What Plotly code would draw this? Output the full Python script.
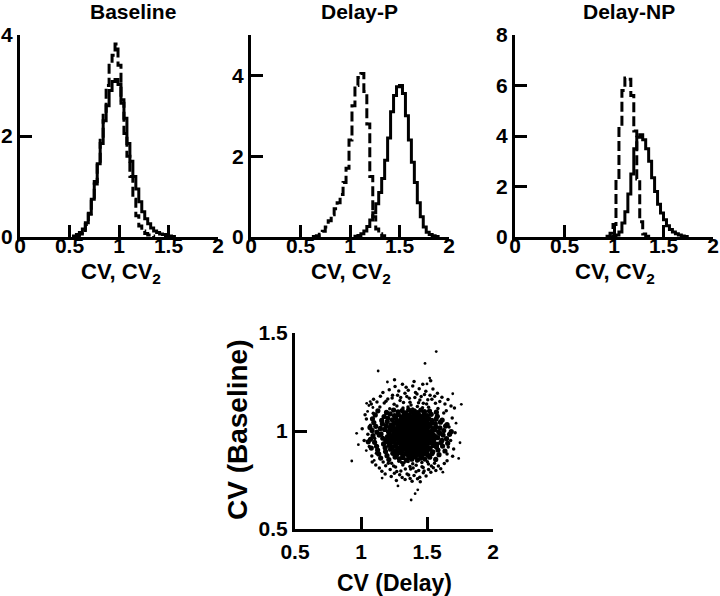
import plotly.graph_objects as go

# ---------------- data ----------------
bin_width = 0.03

baseline_cv_start = 0.54
baseline_cv = [0.02, 0.05, 0.09, 0.16, 0.28, 0.47, 0.75, 1.05, 1.45, 1.85, 2.3, 2.6, 2.9, 3.08,
               3.12, 3.02, 2.72, 2.35, 1.85, 1.5, 1.2, 0.95, 0.7, 0.5, 0.36, 0.26, 0.18, 0.12,
               0.09, 0.06, 0.05, 0.03, 0.02, 0.01]
baseline_cv2_start = 0.57
baseline_cv2 = [0.02, 0.06, 0.13, 0.25, 0.45, 0.75, 1.1, 1.5, 1.95, 2.45, 3.0, 3.45, 3.6, 3.82,
                3.4, 2.65, 2.05, 1.6, 1.2, 0.75, 0.42, 0.22, 0.12, 0.07, 0.04, 0.02]

delayp_cv_start = 1.05
delayp_cv = [0.02, 0.04, 0.08, 0.15, 0.26, 0.42, 0.6, 0.82, 1.1, 1.45, 1.9, 2.45, 3.1, 3.5,
             3.72, 3.75, 3.55, 3.0, 2.4, 1.85, 1.35, 0.85, 0.5, 0.25, 0.12, 0.06, 0.03, 0.01]
delayp_cv2_start = 0.63
delayp_cv2 = [0.01, 0.03, 0.07, 0.14, 0.25, 0.4, 0.55, 0.7, 0.85, 1.05, 1.35, 1.7, 2.4, 3.25,
              3.75, 3.95, 4.05, 3.6, 2.8, 1.5, 0.5, 0.2, 0.08, 0.03]

delaynp_cv_start = 0.96
delaynp_cv = [0.01, 0.03, 0.08, 0.2, 0.55, 1.0, 1.7, 2.5, 3.5, 3.95, 4.05, 3.85, 3.5, 3.0,
              2.35, 1.8, 1.3, 0.95, 0.68, 0.45, 0.3, 0.2, 0.13, 0.08, 0.04, 0.02]
delaynp_cv2_start = 0.93
delaynp_cv2 = [0.03, 0.15, 0.5, 2.2, 4.3, 5.8, 6.3, 6.25, 5.6, 4.2, 2.3, 0.6, 0.12, 0.03]

panel_titles = ["Baseline", "Delay-P", "Delay-NP"]
hist_x_ticks = [0, 0.5, 1, 1.5, 2]
hist_x_ticktext = ["0", "0.5", "1", "1.5", "2"]
hist_y_ticks = [[0, 2, 4], [0, 2, 4], [0, 2, 4, 6, 8]]
hist_y_ranges = [[0, 4], [0, 5], [0, 8]]
scatter_ticks = [0.5, 1, 1.5, 2]
scatter_ticktext = ["0.5", "1", "1.5", "2"]
scatter_yticks = [0.5, 1, 1.5]
scatter_yticktext = ["0.5", "1", "1.5"]

# (CV delay, CV baseline) pairs, estimated from the cloud: dense core
cv_pairs_core = [
    (1.091,0.976),(1.152,0.985),(1.201,0.972),(1.214,0.988),(1.246,0.979),(1.262,0.971),(1.268,0.986),
    (1.295,0.975),(1.297,0.989),(1.319,0.973),(1.323,0.982),(1.344,0.977),(1.352,0.988),(1.356,0.970),
    (1.374,0.984),(1.381,0.974),(1.386,0.990),(1.394,0.978),(1.405,0.971),(1.409,0.986),(1.427,0.980),
    (1.431,0.973),(1.452,0.987),(1.455,0.976),(1.476,0.982),(1.482,0.972),(1.509,0.985),(1.521,0.977),
    (1.546,0.981),(1.559,0.974),(1.596,0.988),(1.622,0.979),(1.671,0.983),(1.138,0.979),
    (1.072,0.958),(1.165,0.963),(1.188,0.952),(1.227,0.967),(1.235,0.955),(1.259,0.961),(1.281,0.969),
    (1.284,0.951),(1.306,0.964),(1.311,0.956),(1.332,0.968),(1.336,0.953),(1.347,0.960),(1.363,0.966),
    (1.368,0.951),(1.379,0.962),(1.392,0.957),(1.398,0.969),(1.416,0.953),(1.419,0.964),(1.438,0.959),
    (1.444,0.968),(1.461,0.952),(1.468,0.962),(1.492,0.957),(1.497,0.967),(1.515,0.954),(1.533,0.963),
    (1.552,0.958),(1.581,0.966),(1.613,0.952),(1.648,0.961),(1.205,0.960),
    (1.084,1.003),(1.121,0.994),(1.179,1.008),(1.208,0.997),(1.231,1.005),(1.249,0.992),(1.276,1.001),
    (1.289,1.009),(1.301,0.993),(1.317,1.004),(1.329,0.996),(1.341,1.008),(1.358,0.999),(1.366,1.006),
    (1.372,0.991),(1.388,1.002),(1.397,0.995),(1.403,1.009),(1.414,0.998),(1.425,1.005),(1.436,0.993),
    (1.449,1.001),(1.463,0.996),(1.471,1.007),(1.489,0.999),(1.503,1.004),(1.512,0.992),(1.538,1.000),
    (1.561,1.006),(1.589,0.994),(1.627,1.002),(1.684,0.997),(1.264,1.000),
    (1.103,0.942),(1.171,0.934),(1.196,0.947),(1.223,0.938),(1.251,0.944),(1.266,0.932),(1.292,0.940),
    (1.299,0.949),(1.315,0.935),(1.327,0.943),(1.339,0.931),(1.353,0.946),(1.361,0.937),(1.376,0.944),
    (1.384,0.933),(1.396,0.948),(1.407,0.939),(1.418,0.945),(1.429,0.931),(1.441,0.941),(1.457,0.948),
    (1.466,0.936),(1.479,0.943),(1.494,0.934),(1.511,0.946),(1.527,0.939),(1.549,0.944),(1.574,0.933),
    (1.605,0.941),(1.657,0.937),(1.055,0.945),
    (1.112,1.024),(1.147,1.013),(1.192,1.027),(1.218,1.016),(1.243,1.022),(1.257,1.011),(1.279,1.028),
    (1.293,1.018),(1.309,1.025),(1.321,1.012),(1.334,1.021),(1.349,1.029),(1.357,1.015),(1.371,1.023),
    (1.383,1.011),(1.391,1.027),(1.402,1.019),(1.413,1.026),(1.424,1.013),(1.437,1.022),(1.448,1.017),
    (1.462,1.029),(1.474,1.014),(1.486,1.024),(1.505,1.019),(1.524,1.027),(1.543,1.012),(1.566,1.021),
    (1.598,1.016),(1.641,1.025),(1.068,1.018),
    (1.118,0.922),(1.183,0.914),(1.212,0.927),(1.239,0.918),(1.261,0.924),(1.278,0.912),(1.302,0.929),
    (1.312,0.916),(1.331,0.922),(1.343,0.911),(1.359,0.927),(1.367,0.917),(1.382,0.924),(1.393,0.913),
    (1.404,0.928),(1.417,0.919),(1.428,0.925),(1.443,0.914),(1.459,0.921),(1.471,0.929),(1.487,0.916),
    (1.501,0.923),(1.523,0.912),(1.547,0.926),(1.572,0.918),(1.618,0.923),(1.078,0.913),
    (1.097,1.043),(1.162,1.036),(1.199,1.048),(1.228,1.032),(1.253,1.041),(1.271,1.047),(1.287,1.034),
    (1.305,1.044),(1.318,1.038),(1.333,1.049),(1.346,1.031),(1.362,1.042),(1.373,1.036),(1.386,1.046),
    (1.399,1.033),(1.411,1.044),(1.423,1.039),(1.439,1.047),(1.451,1.031),(1.467,1.041),(1.483,1.036),
    (1.498,1.048),(1.517,1.034),(1.539,1.043),(1.563,1.038),(1.602,1.045),(1.652,1.033),
    (1.126,0.903),(1.186,0.895),(1.224,0.907),(1.256,0.898),(1.274,0.892),(1.296,0.905),(1.313,0.896),
    (1.335,0.909),(1.351,0.891),(1.365,0.902),(1.379,0.897),(1.391,0.908),(1.406,0.893),(1.421,0.904),
    (1.434,0.899),(1.449,0.906),(1.465,0.891),(1.481,0.902),(1.499,0.896),(1.519,0.907),(1.544,0.894),
    (1.583,0.903),(1.636,0.898),
    (1.087,1.062),(1.157,1.054),(1.203,1.066),(1.237,1.057),(1.262,1.068),(1.285,1.052),(1.304,1.063),
    (1.322,1.058),(1.338,1.069),(1.354,1.051),(1.369,1.061),(1.381,1.056),(1.395,1.067),(1.412,1.053),
    (1.426,1.064),(1.442,1.059),(1.458,1.052),(1.473,1.066),(1.491,1.057),(1.513,1.063),(1.536,1.054),
    (1.569,1.061),(1.615,1.056),
    (1.134,0.883),(1.197,0.874),(1.241,0.886),(1.269,0.878),(1.298,0.889),(1.316,0.872),(1.339,0.884),
    (1.358,0.877),(1.374,0.888),(1.389,0.873),(1.405,0.882),(1.422,0.876),(1.441,0.887),(1.458,0.871),
    (1.479,0.883),(1.506,0.877),(1.538,0.885),(1.591,0.879),
    (1.108,1.082),(1.175,1.074),(1.221,1.087),(1.254,1.078),(1.283,1.084),(1.308,1.072),(1.327,1.089),
    (1.348,1.076),(1.366,1.083),(1.384,1.071),(1.401,1.086),(1.418,1.077),(1.436,1.084),(1.457,1.073),
    (1.478,1.088),(1.502,1.079),(1.532,1.085),(1.578,1.075),
    (1.149,0.862),(1.211,0.854),(1.258,0.867),(1.291,0.858),(1.318,0.865),(1.344,0.851),(1.363,0.863),
    (1.385,0.856),(1.408,0.868),(1.429,0.853),(1.452,0.861),(1.484,0.857),(1.521,0.866),(1.566,0.855),
    (1.128,1.103),(1.193,1.095),(1.247,1.107),(1.281,1.098),(1.312,1.104),(1.337,1.092),(1.361,1.108),
    (1.383,1.097),(1.404,1.103),(1.428,1.094),(1.453,1.106),(1.481,1.099),(1.519,1.102),(1.571,1.096),
]

# wider, sparser ring of the cloud
cv_pairs_fringe = [
    (1.168,0.842),(1.232,0.835),(1.287,0.846),(1.326,0.838),(1.357,0.844),(1.392,0.833),(1.423,0.847),
    (1.461,0.839),(1.503,0.843),(1.557,0.836),
    (1.143,1.122),(1.218,1.114),(1.272,1.127),(1.318,1.117),(1.356,1.123),(1.391,1.112),(1.427,1.125),
    (1.466,1.118),(1.512,1.121),(1.583,1.115),
    (1.187,0.823),(1.262,0.816),(1.317,0.827),(1.371,0.819),(1.418,0.825),(1.471,0.814),(1.533,0.822),
    (1.176,1.143),(1.251,1.136),(1.322,1.146),(1.379,1.133),(1.436,1.144),(1.497,1.138),(1.564,1.141),
    (1.221,0.803),(1.302,0.796),(1.376,0.806),(1.437,0.798),(1.512,0.804),
    (1.203,1.163),(1.296,1.156),(1.366,1.167),(1.446,1.158),(1.537,1.162),
    (1.253,0.784),(1.361,0.776),(1.472,0.787),(1.239,1.183),(1.347,1.176),(1.481,1.186),
    (1.312,0.763),(1.428,0.757),(1.286,1.204),(1.413,1.197),(1.387,0.743),(1.342,1.223),
    (1.085,0.842),(1.112,0.826),(1.139,0.811),(1.158,0.795),(1.183,0.781),(1.207,0.836),(1.229,0.768),
    (1.247,0.822),(1.271,0.794),(1.293,0.777),(1.308,0.839),(1.336,0.806),(1.349,0.781),(1.372,0.758),
    (1.395,0.811),(1.402,0.773),(1.417,0.792),(1.445,0.764),(1.462,0.817),(1.478,0.796),(1.493,0.771),
    (1.511,0.831),(1.529,0.789),(1.548,0.813),(1.567,0.798),(1.586,0.822),(1.604,0.807),(1.631,0.834),
    (1.652,0.848),(1.334,0.752),(1.268,0.748),(1.449,0.741),
    (1.078,1.138),(1.095,1.162),(1.121,1.148),(1.147,1.177),(1.166,1.196),(1.189,1.152),(1.214,1.211),
    (1.236,1.168),(1.258,1.227),(1.277,1.183),(1.301,1.171),(1.314,1.238),(1.333,1.192),(1.358,1.208),
    (1.371,1.147),(1.392,1.229),(1.408,1.171),(1.424,1.189),(1.441,1.216),(1.456,1.176),(1.472,1.141),
    (1.491,1.203),(1.506,1.159),(1.523,1.182),(1.545,1.214),(1.558,1.177),(1.579,1.193),(1.597,1.151),
    (1.613,1.172),(1.636,1.138),(1.659,1.161),(1.682,1.128),(1.402,1.252),(1.468,1.238),(1.254,1.262),
    (1.528,1.256),
    (1.041,1.061),(1.052,0.983),(1.063,0.921),(1.071,1.029),(1.082,0.872),(1.093,1.091),(1.104,0.962),
    (1.117,0.887),(1.009,1.012),(1.024,0.951),(1.031,1.083),(1.652,0.883),(1.667,1.021),(1.679,0.952),
    (1.691,1.066),(1.702,0.908),(1.713,0.991),(1.694,0.871),(1.627,1.092),(1.646,1.103),(1.661,0.918),
    (1.708,1.117),
]

# isolated points
cv_pairs_outliers = [
    (1.57,1.405),(1.485,1.345),(1.13,1.306),(0.93,0.847),(0.967,0.988),(0.98,0.93),(1.76,1.136),
    (1.74,0.86),(1.75,0.94),(1.695,1.19),(1.38,0.648),(1.43,0.70),(1.41,0.68),(1.16,0.76),
    (1.20,1.25),(1.52,1.27),(1.05,1.10),(1.62,0.79),(1.04,0.90),(1.10,0.85),(1.28,0.72),
    (1.50,1.24),(1.72,1.04),(1.06,1.13),(1.043,1.141),(1.07,1.15),(1.09,1.12),
]

# ---------------- figure ----------------
W, H = 720, 596
FONT = "Liberation Sans, Arial, Helvetica, sans-serif"


def step_xy(start, values):
    edges = [start + i * bin_width for i in range(len(values) + 1)]
    return [edges[0]] + edges, [0] + list(values) + [0]


fig = go.Figure()

hist_sets = [
    (baseline_cv_start, baseline_cv, baseline_cv2_start, baseline_cv2),
    (delayp_cv_start, delayp_cv, delayp_cv2_start, delayp_cv2),
    (delaynp_cv_start, delaynp_cv, delaynp_cv2_start, delaynp_cv2),
]
for i, (s1, v1, s2, v2) in enumerate(hist_sets):
    ax = "" if i == 0 else str(i + 1)
    x2, y2 = step_xy(s2, v2)
    fig.add_trace(go.Scatter(x=x2, y=y2, mode="lines", line_shape="hv",
                             line=dict(color="black", width=3, dash="10px,4px"),
                             xaxis="x" + ax, yaxis="y" + ax, showlegend=False))
    x1, y1 = step_xy(s1, v1)
    fig.add_trace(go.Scatter(x=x1, y=y1, mode="lines", line_shape="hv",
                             line=dict(color="black", width=3),
                             xaxis="x" + ax, yaxis="y" + ax, showlegend=False))

for pts, sz in [(cv_pairs_outliers, 2.8), (cv_pairs_fringe, 3.5), (cv_pairs_core, 5.2)]:
    fig.add_trace(go.Scatter(x=[p[0] for p in pts], y=[p[1] for p in pts], mode="markers",
                             marker=dict(color="black", size=sz, line=dict(width=0)),
                             xaxis="x4", yaxis="y4", showlegend=False, cliponaxis=False))


def px_x(p):
    return p / W


def px_y(p):
    return (H - p) / H


tick_font = dict(family=FONT, size=21, color="black", weight="bold")
axis_common = dict(showline=True, linecolor="black", linewidth=3, ticks="inside",
                   ticklen=12, tickwidth=2.5, tickcolor="black", showgrid=False,
                   zeroline=False, automargin=False, tickfont=tick_font)

hist_x_px = [(20, 218), (251, 449), (515, 713)]
layout = dict(width=W, height=H, margin=dict(l=0, r=0, t=0, b=0, autoexpand=False),
              plot_bgcolor="white", paper_bgcolor="white", showlegend=False)
for i in range(3):
    ax = "" if i == 0 else str(i + 1)
    layout["xaxis" + ax] = dict(axis_common, domain=[px_x(hist_x_px[i][0]), px_x(hist_x_px[i][1])],
                                range=[0, 2], tickvals=hist_x_ticks, ticktext=hist_x_ticktext,
                                anchor="y" + ax, ticklabelstandoff=-12)
    layout["yaxis" + ax] = dict(axis_common, domain=[px_y(237), px_y(35)],
                                range=hist_y_ranges[i], tickvals=hist_y_ticks[i],
                                anchor="x" + ax, ticklabelstandoff=0)

layout["xaxis4"] = dict(axis_common, domain=[px_x(295), px_x(493)], range=[0.5, 2],
                        tickvals=scatter_ticks, ticktext=scatter_ticktext, anchor="y4",
                        ticklabelstandoff=2)
layout["yaxis4"] = dict(axis_common, domain=[px_y(529), px_y(333)], range=[0.5, 1.5],
                        tickvals=scatter_yticks, ticktext=scatter_yticktext, anchor="x4",
                        ticklabelstandoff=0)

fig.update_layout(**layout)

title_font = dict(family=FONT, size=21, color="black", weight="bold")
title_x = [133, 359, 629]
for i, t in enumerate(panel_titles):
    fig.add_annotation(text=t, x=px_x(title_x[i]), y=px_y(12), xref="paper", yref="paper",
                       showarrow=False, font=title_font, xanchor="center", yanchor="middle")

label_font = dict(family=FONT, size=22, color="black", weight="bold")
label_x = [121, 351, 615]
for lx in label_x:
    fig.add_annotation(text="CV, CV<sub>2</sub>", x=px_x(lx), y=px_y(273), xref="paper",
                       yref="paper", showarrow=False, font=label_font,
                       xanchor="center", yanchor="middle")

fig.add_annotation(text="CV (Delay)", x=px_x(394), y=px_y(583), xref="paper", yref="paper",
                   showarrow=False, font=dict(family=FONT, size=23, color="black", weight="bold"),
                   xanchor="center", yanchor="middle")
fig.add_annotation(text="CV (Baseline)", x=px_x(237), y=px_y(430), xref="paper", yref="paper",
                   showarrow=False, textangle=-90,
                   font=dict(family=FONT, size=28, color="black", weight="bold"),
                   xanchor="center", yanchor="middle")

fig.write_html("out.html", config={"displayModeBar": False},
               post_script="document.body.style.margin='0px';")
